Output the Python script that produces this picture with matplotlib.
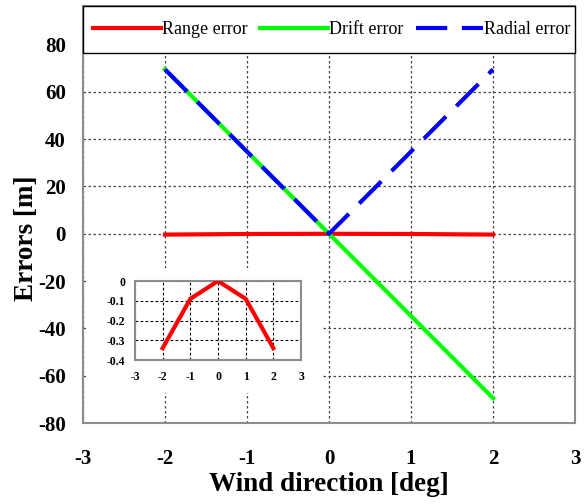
import matplotlib.pyplot as plt
from matplotlib.patches import Rectangle

plt.rcParams['font.family'] = ['Liberation Serif', 'DejaVu Serif']
plt.rcParams['axes.unicode_minus'] = False

wind = [-2, -1, 0, 1, 2]
range_err = [-0.34, -0.09, 0.0, -0.09, -0.34]
drift_err = [69.5, 34.75, 0.0, -34.75, -69.5]
radial_err = [69.5, 34.75, 0.0, 34.75, 69.5]

xticks = [-3, -2, -1, 0, 1, 2, 3]
yticks = [-80, -60, -40, -20, 0, 20, 40, 60, 80]
inset_yticks = [-0.4, -0.3, -0.2, -0.1, 0]
inset_ylabels = ['-0.4', '-0.3', '-0.2', '-0.1', '0']

fig = plt.figure(figsize=(5.87, 5.04), dpi=100)
ax = fig.add_axes([0.1414, 0.1607, 0.8382, 0.8274])

ax.plot(wind, range_err, color='#ff0000', lw=3, label='Range error', zorder=2)
ax.plot(wind, drift_err, color='#00ff00', lw=3, label='Drift error', zorder=2)
ax.plot(wind, radial_err, color='#0000ff', lw=3, dashes=(7.5, 3.5),
        label='Radial error', zorder=3)

ax.set_xlim(-3, 3)
ax.set_ylim(-80, 96.3)
ax.set_xticks(xticks)
ax.set_yticks(yticks)
ax.tick_params(length=0, labelsize=15)
ax.tick_params(axis='x', pad=19)
ax.tick_params(axis='y', pad=12.5)
for t in ax.get_xticklabels() + ax.get_yticklabels():
    t.set_fontweight('bold')

ax.set_axisbelow(True)
ax.grid(True, color='#444444', lw=0.9, dashes=(2, 2))
for s in ax.spines.values():
    s.set_color('#8c8c8c')
    s.set_linewidth(1.5)

ax.set_xlabel('Wind direction [deg]', fontsize=19.5, fontweight='bold')
ax.set_ylabel('Errors [m]', fontsize=19.5, fontweight='bold')
ax.xaxis.set_label_coords(0.5, -0.118)
ax.yaxis.set_label_coords(-0.089, 0.444)

# legend box across the top of the plot
ax.add_patch(Rectangle((0, 0.8873), 1, 0.1127, transform=ax.transAxes,
                       facecolor='white', edgecolor='black', lw=1.0,
                       zorder=4, clip_on=False))
leg = ax.legend(loc='center', bbox_to_anchor=(0.0065, 0.8873, 0.999, 0.1127),
                mode='expand', ncol=3, borderaxespad=0, frameon=False,
                fontsize=13, handlelength=3.75, handletextpad=0.05,
                columnspacing=0.85, borderpad=0.4)
leg.set_zorder(5)

# white backing behind the inset
ax.add_patch(Rectangle((0.006, 0.072), 0.48, 0.3, transform=ax.transAxes,
                       facecolor='white', edgecolor='none', zorder=1))

ins = fig.add_axes([0.2300, 0.2857, 0.2828, 0.1567])
ins.plot(wind, range_err, color='#ff0000', lw=3, zorder=3)
ins.set_xlim(-3, 3)
ins.set_ylim(-0.4, 0)
ins.set_xticks(xticks)
ins.set_yticks(inset_yticks)
ins.set_yticklabels(inset_ylabels)
ins.tick_params(length=0, labelsize=8.5)
ins.tick_params(axis='x', pad=8)
ins.tick_params(axis='y', pad=7)
for t in ins.get_xticklabels() + ins.get_yticklabels():
    t.set_fontweight('bold')
ins.set_axisbelow(True)
ins.grid(True, color='black', lw=0.8, dashes=(2.5, 2))
for s in ins.spines.values():
    s.set_color('#8c8c8c')
    s.set_linewidth(1.5)

fig.savefig('out.png', dpi=100)
